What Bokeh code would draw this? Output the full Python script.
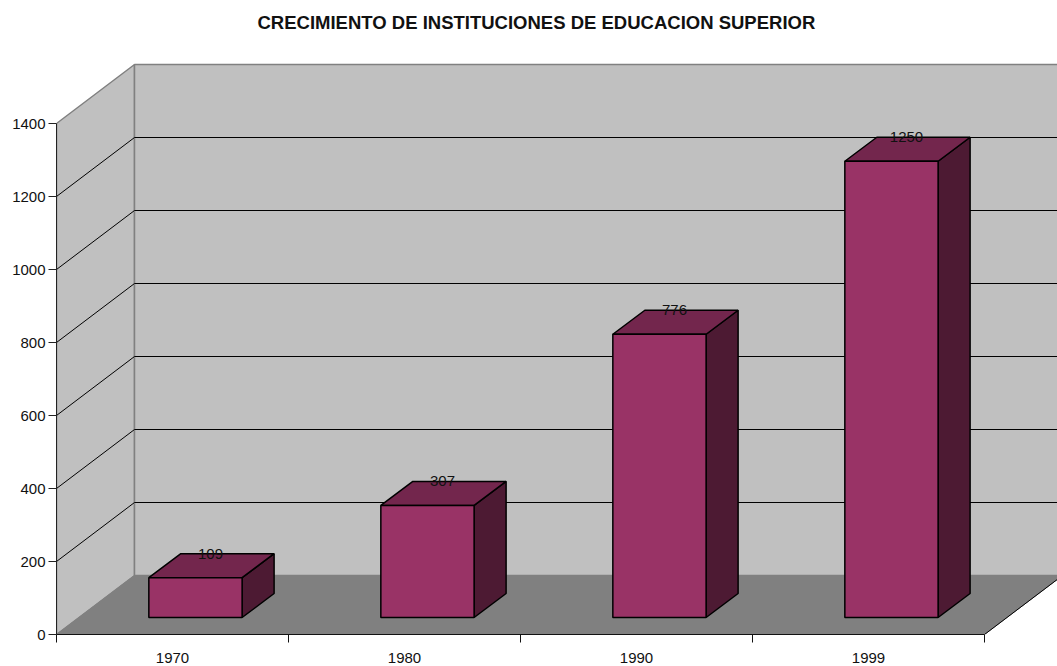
from bokeh.embed import file_html
from bokeh.resources import INLINE
from bokeh.plotting import figure
from bokeh.models import FixedTicker, Range1d, LinearAxis, Title
from bokeh.core.properties import value

TITLE = "CRECIMIENTO DE INSTITUCIONES DE EDUCACION SUPERIOR"
categories = ["1970", "1980", "1990", "1999"]
values = [109, 307, 776, 1250]
y_ticks = [0, 200, 400, 600, 800, 1000, 1200, 1400]
y_max = 1400

# Styling / layout constants
PX_X = 232.0                # pixels per category slot
PX_Y = 511.0 / 1400.0       # pixels per value unit
WIDTH, HEIGHT = 1057, 666
LEFT, TOP, BOTTOM = 56, 40, 32
WALL_DX, WALL_DY = 78 / PX_X, 59 / PX_Y
BAR_DX, BAR_DY = 32 / PX_X, 24 / PX_Y
BAR_X0, BAR_X1 = 0.398, 0.8
BAR_BASE = 17 / PX_Y
FONT = "Liberation Sans"
FS = "15px"

n = len(categories)
p = figure(frame_width=WIDTH - LEFT, frame_height=HEIGHT - TOP - BOTTOM,
           output_backend="svg", toolbar_location=None,
           x_range=Range1d(0, (WIDTH - LEFT) / PX_X),
           y_range=Range1d(0, (HEIGHT - BOTTOM - TOP) / PX_Y),
           min_border_left=LEFT, min_border_right=0, min_border_top=TOP, min_border_bottom=BOTTOM,
           x_axis_type=None, y_axis_type=None, outline_line_color=None,
           background_fill_color="white", border_fill_color="white", margin=0)
p.grid.visible = False

p.patch([0, WALL_DX, WALL_DX, 0], [0, WALL_DY, y_max + WALL_DY, y_max],
        fill_color="#C0C0C0", line_color="#808080", line_width=1.5)
p.patch([WALL_DX, n + WALL_DX, n + WALL_DX, WALL_DX], [WALL_DY, WALL_DY, y_max + WALL_DY, y_max + WALL_DY],
        fill_color="#C0C0C0", line_color="#808080", line_width=1.5)

for t in y_ticks[1:-1]:
    p.line([0, WALL_DX, n + WALL_DX], [t, t + WALL_DY, t + WALL_DY], line_color="black", line_width=1)

p.patch([0, n, n + WALL_DX, WALL_DX], [0, 0, WALL_DY, WALL_DY],
        fill_color="#808080", line_color="#808080", line_width=1)
p.line([n, n + WALL_DX], [0, WALL_DY], line_color="black", line_width=1)

for i, v in enumerate(values):
    x0, x1 = i + BAR_X0, i + BAR_X1
    y0, y1 = BAR_BASE, BAR_BASE + v
    p.patch([x1, x1 + BAR_DX, x1 + BAR_DX, x1], [y0, y0 + BAR_DY, y1 + BAR_DY, y1],
            fill_color="#4D1A33", line_color="black", line_width=1.5)
    p.patch([x0, x0 + BAR_DX, x1 + BAR_DX, x1], [y1, y1 + BAR_DY, y1 + BAR_DY, y1],
            fill_color="#73264D", line_color="black", line_width=1.5)
    p.patch([x0, x1, x1, x0], [y0, y0, y1, y1],
            fill_color="#993366", line_color="black", line_width=1.5)

p.text([i + (BAR_X0 + BAR_X1) / 2 + BAR_DX / 2 - 1 / PX_X for i in range(n)],
       [BAR_BASE + v + BAR_DY for v in values], text=[str(v) for v in values],
       text_align="center", text_baseline="middle", text_font=value(FONT),
       text_font_size=FS, text_color="#111111")

yax = LinearAxis(ticker=FixedTicker(ticks=y_ticks), bounds=(0, y_max))
yax.major_tick_in = 0
yax.major_tick_out = 8
yax.minor_tick_in = yax.minor_tick_out = 0
yax.major_tick_line_color = "#222222"
yax.axis_line_color = "#222222"
yax.major_label_standoff = 3
yax.major_label_text_font = FONT
yax.major_label_text_font_size = FS
yax.major_label_text_color = "#111111"
p.add_layout(yax, "left")

centers = [i + 0.5 for i in range(n)]
xax = LinearAxis(ticker=FixedTicker(ticks=centers, minor_ticks=list(range(n + 1))),
                 major_label_overrides={c: lab for c, lab in zip(centers, categories)},
                 bounds=(0, n))
xax.major_tick_in = xax.major_tick_out = 0
xax.major_tick_line_color = None
xax.minor_tick_in = 0
xax.minor_tick_out = 8
xax.minor_tick_line_color = "#111111"
xax.axis_line_color = "#111111"
xax.major_label_standoff = 10
xax.major_label_text_font = FONT
xax.major_label_text_font_size = FS
xax.major_label_text_color = "#111111"
p.add_layout(xax, "below")

p.title = Title(text=TITLE, align="left", offset=201, standoff=15, text_font=FONT,
                text_font_size="18.5px", text_font_style="bold", text_color="#111111")

open("out.html", "w").write(file_html(p, INLINE))
